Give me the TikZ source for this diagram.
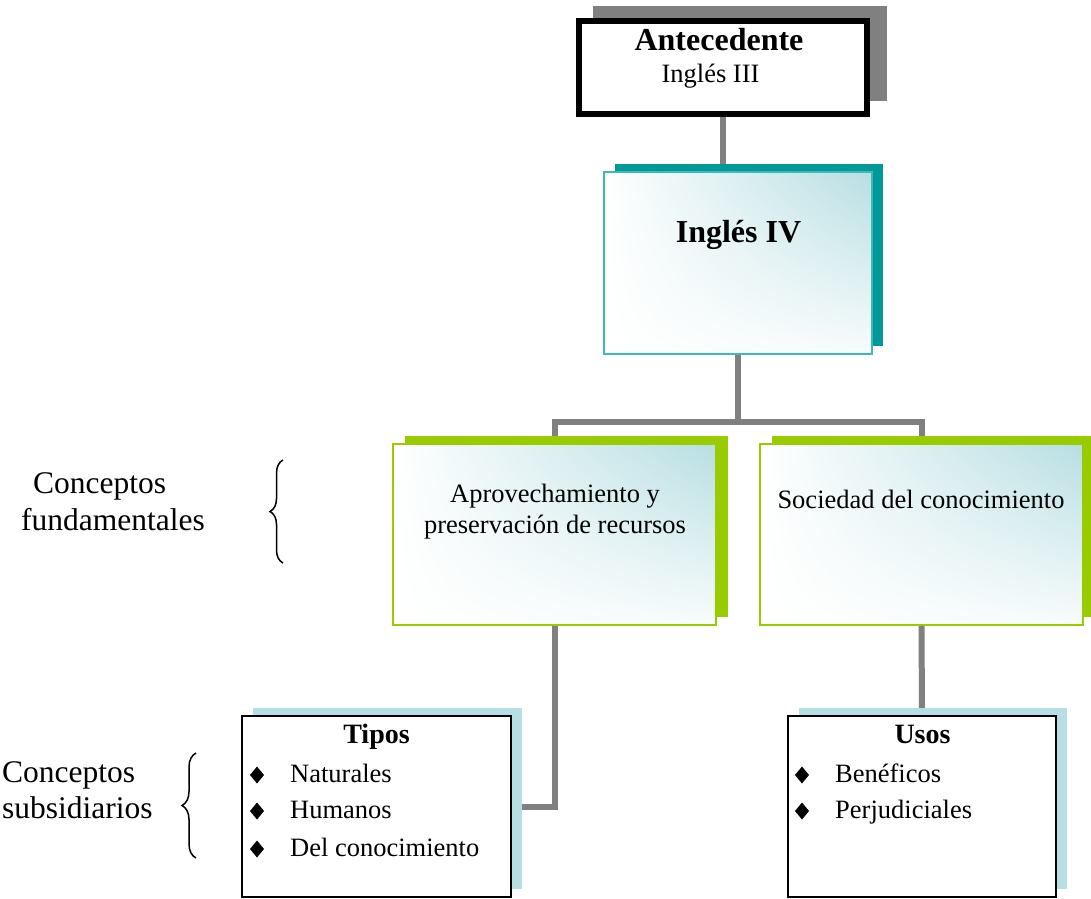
\documentclass[tikz,border=0pt]{standalone}
\usepackage{fontspec}
\setmainfont{Liberation Serif}
\usetikzlibrary{shadows,shadings,shapes.geometric,decorations.pathreplacing,backgrounds}

\definecolor{shadowgray}{RGB}{128,128,128}
\definecolor{linegray}{RGB}{128,128,128}
\definecolor{tealdark}{RGB}{0,153,153}
\definecolor{tealline}{RGB}{64,184,184}
\definecolor{lime}{RGB}{153,204,0}
\definecolor{sky}{RGB}{183,222,226}

\begin{document}
\begin{tikzpicture}[x=1pt,y=-1pt,
  conn/.style={draw=linegray, line width=6pt},
  glow/.style={shading=bilinear interpolation, upper left=white, upper right=sky, lower left=white, lower right=sky!10!white},
  antbox/.style={draw=black, line width=6pt, fill=white, inner sep=0pt,
    minimum width=288pt, minimum height=93pt,
    general shadow={fill=shadowgray, shadow xshift=17pt, shadow yshift=14pt, shadow scale=1.02}},
  mainbox/.style={draw=tealline, line width=2pt, glow, inner sep=0pt,
    minimum width=268pt, minimum height=182pt,
    general shadow={fill=tealdark, shadow xshift=11pt, shadow yshift=8pt}},
  fundbox/.style={draw=lime, line width=2pt, glow, inner sep=0pt,
    minimum width=323pt, minimum height=181pt,
    general shadow={fill=lime, shadow xshift=11.5pt, shadow yshift=8pt}},
  subbox/.style={draw=black, line width=1.5pt, fill=white, inner sep=0pt,
    minimum width=268pt, minimum height=181pt,
    general shadow={fill=sky, shadow xshift=11pt, shadow yshift=8pt}},
  bul/.style={diamond, fill=black, inner sep=0pt, outer sep=0pt, aspect=0.8, minimum width=14pt, minimum height=17pt},
  ttl/.style={anchor=base, inner sep=0pt, font=\fontsize{32pt}{36pt}\selectfont\bfseries},
  sttl/.style={anchor=base, inner sep=0pt, font=\fontsize{28pt}{32pt}\selectfont\bfseries},
  txt/.style={anchor=base, inner sep=0pt, font=\fontsize{26.5pt}{30pt}\selectfont},
  item/.style={anchor=base west, inner sep=0pt, font=\fontsize{26.5pt}{30pt}\selectfont},
  side/.style={anchor=base west, inner sep=0pt, font=\fontsize{31.5pt}{36pt}\selectfont},
  brc/.style={draw=black, line width=1.5pt, decorate, decoration={brace, amplitude=#1}}
]
\useasboundingbox (0,0) rectangle (1091,898);

% boxes
\node[antbox] (ant) at (723,67.5) {};
\node[mainbox] (ing4) at (738,263) {};
\node[fundbox] (fl) at (554.5,534.5) {};
\node[fundbox] (fr) at (921.5,534.5) {};
\node[subbox, minimum width=269pt] (tipos) at (376.5,806.5) {};
\node[subbox] (usos) at (922,806.5) {};

% box texts
\node[ttl] (tant) at (719,50) {Antecedente};
\node[txt] (tant2) at (710.5,82) {Inglés III};
\node[ttl] (ting4) at (738.5,242) {Inglés IV};
\node[txt] (tfl1) at (555,502) {Aprovechamiento y};
\node[txt] (tfl2) at (555,533) {preservación de recursos};
\node[txt] (tfr) at (921,508) {Sociedad del conocimiento};

\node[sttl] (ttipos) at (376.5,743) {Tipos};
\node[bul] (b1) at (257,775) {};
\node[bul] (b2) at (257,811) {};
\node[bul] (b3) at (257,849) {};
\node[item] (i1) at (290,782) {Naturales};
\node[item] (i2) at (290,818) {Humanos};
\node[item] (i3) at (290,856) {Del conocimiento};

\node[sttl] (tusos) at (922.5,743) {Usos};
\node[bul] (b4) at (802,775) {};
\node[bul] (b5) at (802,811) {};
\node[item] (i4) at (835,782) {Benéficos};
\node[item] (i5) at (835,818) {Perjudiciales};

% side labels and braces
\node[side] (s1) at (33,493) {Conceptos};
\node[side] (s2) at (21,530) {fundamentales};
\node[side] (s3) at (2,782) {Conceptos};
\node[side] (s4) at (2,818) {subsidiarios};
\coordinate (br1a) at (283,563);
\coordinate (br1b) at (283,460);
\coordinate (br2a) at (196,858);
\coordinate (br2b) at (196,753);
\draw[brc=13pt] (br1a) -- (br1b);
\draw[brc=14pt] (br2a) -- (br2b);

% connectors
\coordinate (j) at (738,422);
\begin{scope}[on background layer]
  \fill[white] (0,0) rectangle (1091,898);
  \draw[conn] (ant.south) -- (ant.south |- ing4.north);
  \draw[conn] (ing4.south) -- (j);
  \draw[conn] (fl.north) -- (fl.north |- j) -- (fr.north |- j) -- (fr.north);
  \draw[conn] (fl.south) |- (tipos.east);
  \draw[conn] (fr.south) -- (usos.north);
\end{scope}
\end{tikzpicture}
\end{document}
